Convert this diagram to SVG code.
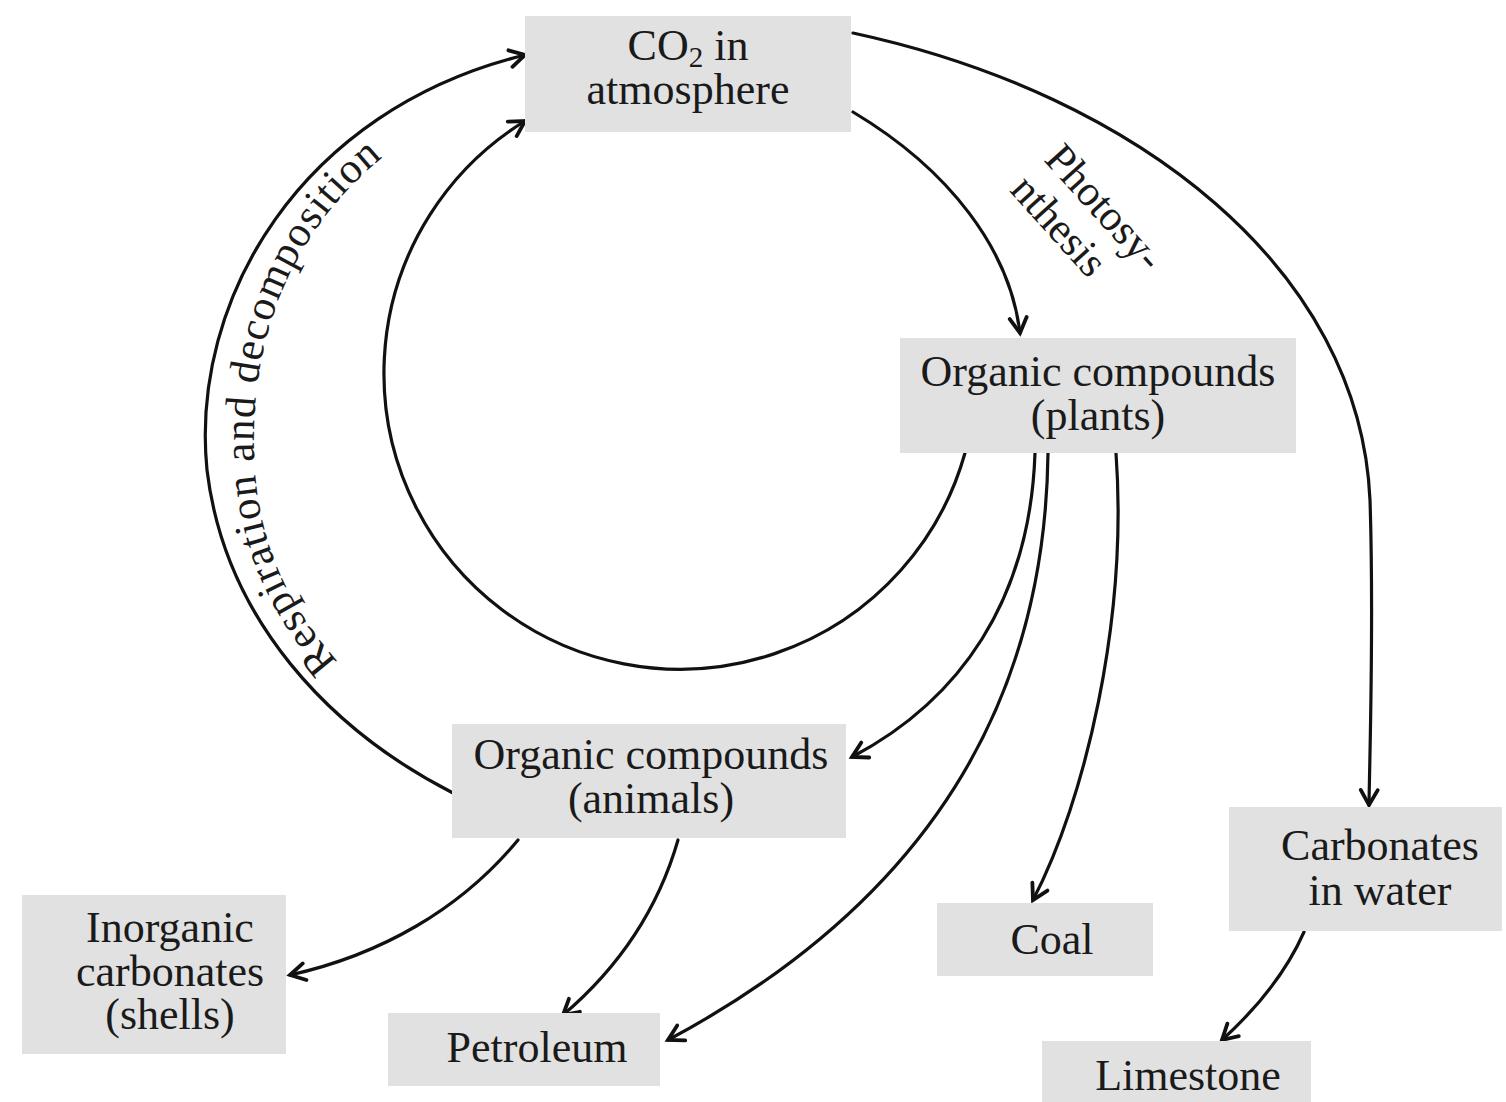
<svg xmlns="http://www.w3.org/2000/svg" width="1506" height="1102" viewBox="0 0 1506 1102">
<style>
.box{fill:#e1e1e1}
.t{font-family:"Liberation Serif","Times New Roman",serif;font-size:44px;fill:#1a1a1a;text-anchor:middle}
.lbl{font-family:"Liberation Serif","Times New Roman",serif;font-size:43px;fill:#1a1a1a}
.c{fill:none;stroke:#111;stroke-width:3.2;stroke-linecap:round}
</style>
<defs>
<marker id="ah" viewBox="-20 -12 24 24" markerWidth="24" markerHeight="24" refX="0" refY="0" orient="auto" markerUnits="userSpaceOnUse">
<path d="M-15,-8.5 L0,0 L-15,8.5" fill="none" stroke="#111" stroke-width="3.8" stroke-linecap="round" stroke-linejoin="miter"/>
</marker>
<path id="respPath" d="M338,662 C 275,590 252,520 254,430 C 256,320 300,220 392,150"/>
</defs>
<rect width="1506" height="1102" fill="#fff"/>

<g id="connectors">
<path class="c" marker-end="url(#ah)" d="M453,793 C 330,730 225,620 207,470 C 190,300 300,110 525,55"/>
<path class="c" marker-end="url(#ah)" d="M965,453 A296,296 0 1 1 525,121"/>
<path class="c" marker-end="url(#ah)" d="M853,112 C 950,170 1010,250 1020,333"/>
<path class="c" marker-end="url(#ah)" d="M853,33 C 1140,95 1360,270 1370,500 C 1374,620 1370,740 1369,805"/>
<path class="c" marker-end="url(#ah)" d="M1035,453 C 1030,600 960,700 852,757"/>
<path class="c" marker-end="url(#ah)" d="M1048,453 C 1045,700 930,900 668,1040"/>
<path class="c" marker-end="url(#ah)" d="M1116,453 C 1128,620 1085,800 1033,900"/>
<path class="c" marker-end="url(#ah)" d="M1304,932 C 1285,975 1255,1010 1222,1040"/>
<path class="c" marker-end="url(#ah)" d="M518,840 C 460,910 380,955 290,975"/>
<path class="c" marker-end="url(#ah)" d="M678,840 C 655,920 610,975 563,1015"/>
</g>

<g id="labels">
<text class="lbl"><textPath href="#respPath" textLength="565" lengthAdjust="spacing">Respiration and decomposition</textPath></text>
<g transform="translate(1043,160) rotate(48)">
<text class="lbl" x="0" y="0" font-size="42">Photosy-</text>
<text class="lbl" x="0" y="46" font-size="42">nthesis</text>
</g>
</g>

<g id="co2">
<rect class="box" x="525" y="16" width="326" height="116"/>
<text class="t" x="688" y="60">CO<tspan font-size="29" dy="7">2</tspan><tspan dy="-7"> in</tspan></text>
<text class="t" x="688" y="104">atmosphere</text>
</g>
<g id="plants">
<rect class="box" x="900" y="338" width="396" height="115"/>
<text class="t" x="1098" y="386">Organic compounds</text>
<text class="t" x="1098" y="430">(plants)</text>
</g>
<g id="animals">
<rect class="box" x="452" y="724" width="394" height="114"/>
<text class="t" x="651" y="769">Organic compounds</text>
<text class="t" x="651" y="813">(animals)</text>
</g>
<g id="inorganic">
<rect class="box" x="22" y="895" width="264" height="159"/>
<text class="t" x="170" y="942">Inorganic</text>
<text class="t" x="170" y="986">carbonates</text>
<text class="t" x="170" y="1029">(shells)</text>
</g>
<g id="petroleum">
<rect class="box" x="388" y="1013" width="272" height="73"/>
<text class="t" x="537" y="1062">Petroleum</text>
</g>
<g id="coal">
<rect class="box" x="937" y="903" width="216" height="73"/>
<text class="t" x="1052" y="954">Coal</text>
</g>
<g id="carbonates">
<rect class="box" x="1229" y="807" width="273" height="124"/>
<text class="t" x="1380" y="860">Carbonates</text>
<text class="t" x="1380" y="905">in water</text>
</g>
<g id="limestone">
<rect class="box" x="1042" y="1041" width="269" height="70"/>
<text class="t" x="1188" y="1090">Limestone</text>
</g>
</svg>
